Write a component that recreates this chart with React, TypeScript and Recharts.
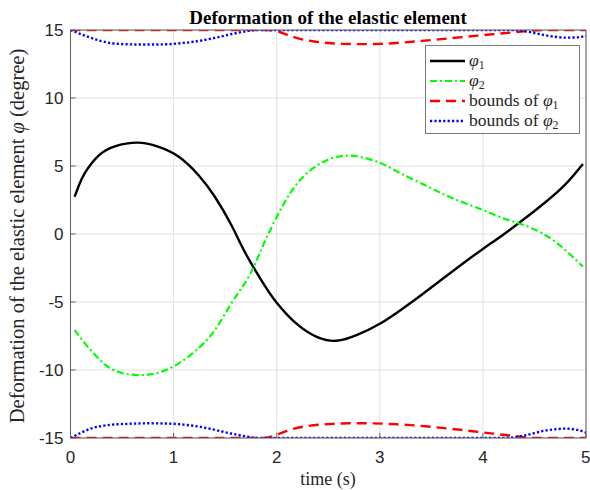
import React from 'react';
import { LineChart, Line, XAxis, YAxis, CartesianGrid, Legend } from 'recharts';

const timeTicks = [0, 1, 2, 3, 4, 5];
const valueTicks = [-15, -10, -5, 0, 5, 10, 15];

const phi1Time = [0.04, 0.08, 0.14, 0.27, 0.43, 0.65, 0.85, 1.05, 1.24, 1.4, 1.56, 1.7, 1.87, 2.0, 2.2, 2.4, 2.58, 2.78, 3.0, 3.2, 3.4, 3.6, 3.8, 4.0, 4.2, 4.4, 4.6, 4.8, 4.97];
const phi1Values = [2.74, 3.55, 4.5, 5.75, 6.45, 6.72, 6.42, 5.68, 4.34, 2.74, 0.66, -1.45, -3.63, -5.05, -6.65, -7.6, -7.85, -7.42, -6.6, -5.6, -4.5, -3.35, -2.2, -1.1, -0.03, 1.1, 2.3, 3.65, 5.15];

const phi2Time = [0.04, 0.14, 0.27, 0.43, 0.65, 0.85, 1.05, 1.24, 1.4, 1.56, 1.69, 1.79, 1.9, 2.06, 2.23, 2.45, 2.71, 3.0, 3.2, 3.45, 3.7, 4.0, 4.2, 4.4, 4.6, 4.78, 4.97];
const phi2Values = [-7.06, -8.04, -9.14, -10.05, -10.37, -10.2, -9.51, -8.4, -7.06, -5.1, -3.63, -2.2, -0.3, 2.1, 4.0, 5.3, 5.76, 5.24, 4.46, 3.55, 2.65, 1.76, 1.15, 0.65, -0.05, -1.05, -2.4];

const bound1UpperTime = [0, 1.9, 2.0, 2.1, 2.2, 2.35, 2.5, 2.65, 2.8, 3.0, 3.2, 3.4, 3.6, 3.8, 4.0, 4.2, 4.4, 4.6, 5];
const bound1UpperValues = [15, 15, 14.92, 14.65, 14.4, 14.17, 14.04, 13.98, 13.96, 13.98, 14.07, 14.19, 14.33, 14.48, 14.62, 14.76, 14.9, 15, 15];

const bound1LowerTime = [0, 1.85, 1.95, 2.05, 2.15, 2.3, 2.5, 2.7, 2.9, 3.1, 3.3, 3.5, 3.7, 3.9, 4.1, 4.3, 4.5, 5];
const bound1LowerValues = [-15, -15, -14.9, -14.62, -14.35, -14.12, -13.98, -13.92, -13.92, -13.97, -14.05, -14.18, -14.33, -14.5, -14.68, -14.85, -15, -15];

const bound2UpperTime = [0, 0.1, 0.2, 0.3, 0.4, 0.55, 0.75, 0.95, 1.1, 1.25, 1.4, 1.55, 1.7, 1.8, 4.3, 4.4, 4.5, 4.6, 4.7, 4.8, 4.9, 5];
const bound2UpperValues = [15, 14.7, 14.42, 14.18, 14.03, 13.95, 13.93, 13.96, 14.05, 14.2, 14.42, 14.68, 14.9, 15, 15, 14.92, 14.78, 14.62, 14.5, 14.44, 14.45, 14.58];

const bound2LowerTime = [0, 0.1, 0.2, 0.3, 0.4, 0.55, 0.75, 0.95, 1.1, 1.25, 1.4, 1.55, 1.7, 1.8, 4.2, 4.3, 4.4, 4.5, 4.6, 4.7, 4.8, 4.9, 5];
const bound2LowerValues = [-15, -14.62, -14.3, -14.12, -14.02, -13.96, -13.92, -13.94, -14.02, -14.17, -14.4, -14.66, -14.88, -15, -15, -14.95, -14.82, -14.64, -14.46, -14.36, -14.31, -14.38, -14.6];

const toData = (ts: number[], vs: number[]) => ts.map((t, i) => ({ t, v: vs[i] }));

const phi1Data = toData(phi1Time, phi1Values);
const phi2Data = toData(phi2Time, phi2Values);
const b1u = toData(bound1UpperTime, bound1UpperValues);
const b1l = toData(bound1LowerTime, bound1LowerValues);
const b2u = toData(bound2UpperTime, bound2UpperValues);
const b2l = toData(bound2LowerTime, bound2LowerValues);

const AXIS = '#5f5f5f';
const TICK_FONT = { fill: '#262626', fontSize: 17, fontFamily: '"Liberation Sans", Arial, sans-serif' };
const SERIF = '"Liberation Serif", "Times New Roman", serif';

const BLACK_W = 2.4;
const GREEN_DASH = '7 3 2 3';
const RED_DASH = '10 6';
const BLUE_DASH = '2.2 2.2';

const TitleLabel = () => (
  <text x={328} y={24} textAnchor="middle" fontFamily={SERIF} fontWeight="bold" fontSize={19} fill="#000">
    Deformation of the elastic element
  </text>
);

const XLabel = () => (
  <text x={328} y={485} textAnchor="middle" fontFamily={SERIF} fontSize={18} fill="#262626">
    time (s)
  </text>
);

const YLabel = () => (
  <text
    x={0}
    y={0}
    transform="translate(24 236) rotate(-90)"
    textAnchor="middle"
    fontFamily={SERIF}
    fontSize={20.5}
    fill="#262626"
  >
    Deformation of the elastic element <tspan fontStyle="italic">φ</tspan> (degree)
  </text>
);

const legendItems = [
  { color: '#000000', dash: undefined as string | undefined, width: BLACK_W, prefix: '', sub: '1' },
  { color: '#00ff00', dash: GREEN_DASH, width: 2.2, prefix: '', sub: '2' },
  { color: '#ff0000', dash: RED_DASH, width: 2.4, prefix: 'bounds of ', sub: '1' },
  { color: '#0000ff', dash: BLUE_DASH, width: 2.4, prefix: 'bounds of ', sub: '2' },
];

const LegendBox = () => (
  <div style={{ width: 155, height: 89, border: '1px solid #7a7a7a', background: '#fff', boxSizing: 'border-box' }}>
    <svg width={153} height={87} style={{ display: 'block' }}>
      {legendItems.map((it, i) => {
        const y = 15 + i * 20;
        return (
          <g key={i}>
            <line x1={4} x2={39} y1={y} y2={y} stroke={it.color} strokeWidth={it.width} strokeDasharray={it.dash} />
            <text x={43} y={y + 5} fontFamily={SERIF} fontSize={17.5} fill="#262626">
              {it.prefix}
              <tspan fontStyle="italic">φ</tspan>
              <tspan dy={3} fontSize={12}>{it.sub}</tspan>
            </text>
          </g>
        );
      })}
    </svg>
  </div>
);

export default function App() {
  return (
    <div style={{ position: 'absolute', left: 0, top: 0, width: 590, height: 490, background: '#fff' }}>
      <LineChart width={590} height={490} margin={{ top: 0, right: 0, bottom: 0, left: 0 }}>
        <CartesianGrid stroke="#e0e0e0" strokeWidth={1} />
        <XAxis
          dataKey="t"
          type="number"
          domain={[0, 5]}
          ticks={timeTicks}
          allowDataOverflow
          height={52}
          stroke={AXIS}
          tickSize={-5}
          tickMargin={18}
          tick={TICK_FONT}
          label={<XLabel />}
        />
        <XAxis
          xAxisId="top"
          orientation="top"
          dataKey="t"
          type="number"
          domain={[0, 5]}
          ticks={timeTicks}
          allowDataOverflow
          height={30}
          stroke={AXIS}
          tickSize={-5}
          tick={false}
          label={<TitleLabel />}
        />
        <YAxis
          type="number"
          domain={[-15, 15]}
          ticks={valueTicks}
          allowDataOverflow
          width={70.5}
          stroke={AXIS}
          tickSize={-5}
          tickMargin={12}
          tick={TICK_FONT}
          label={<YLabel />}
        />
        <YAxis
          yAxisId="right"
          orientation="right"
          type="number"
          domain={[-15, 15]}
          ticks={valueTicks}
          allowDataOverflow
          width={4}
          stroke={AXIS}
          tickSize={-5}
          tick={false}
        />
        <Legend
          layout="vertical"
          align="center"
          verticalAlign="middle"
          content={() => <LegendBox />}
          wrapperStyle={{ position: 'absolute', left: 425, top: 45, width: 155, height: 89 }}
        />
        <Line data={phi1Data} dataKey="v" type="natural" stroke="#000000" strokeWidth={BLACK_W} dot={false} activeDot={false} isAnimationActive={false} />
        <Line data={phi2Data} dataKey="v" type="natural" stroke="#00ff00" strokeWidth={2.2} strokeDasharray={GREEN_DASH} dot={false} activeDot={false} isAnimationActive={false} />
        <Line data={b1u} dataKey="v" type="monotone" stroke="#ff0000" strokeWidth={2.4} strokeDasharray={RED_DASH} dot={false} activeDot={false} isAnimationActive={false} />
        <Line data={b1l} dataKey="v" type="monotone" stroke="#ff0000" strokeWidth={2.4} strokeDasharray={RED_DASH} dot={false} activeDot={false} isAnimationActive={false} />
        <Line data={b2u} dataKey="v" type="monotone" stroke="#0000ff" strokeWidth={2.4} strokeDasharray={BLUE_DASH} dot={false} activeDot={false} isAnimationActive={false} />
        <Line data={b2l} dataKey="v" type="monotone" stroke="#0000ff" strokeWidth={2.4} strokeDasharray={BLUE_DASH} dot={false} activeDot={false} isAnimationActive={false} />
      </LineChart>
    </div>
  );
}
